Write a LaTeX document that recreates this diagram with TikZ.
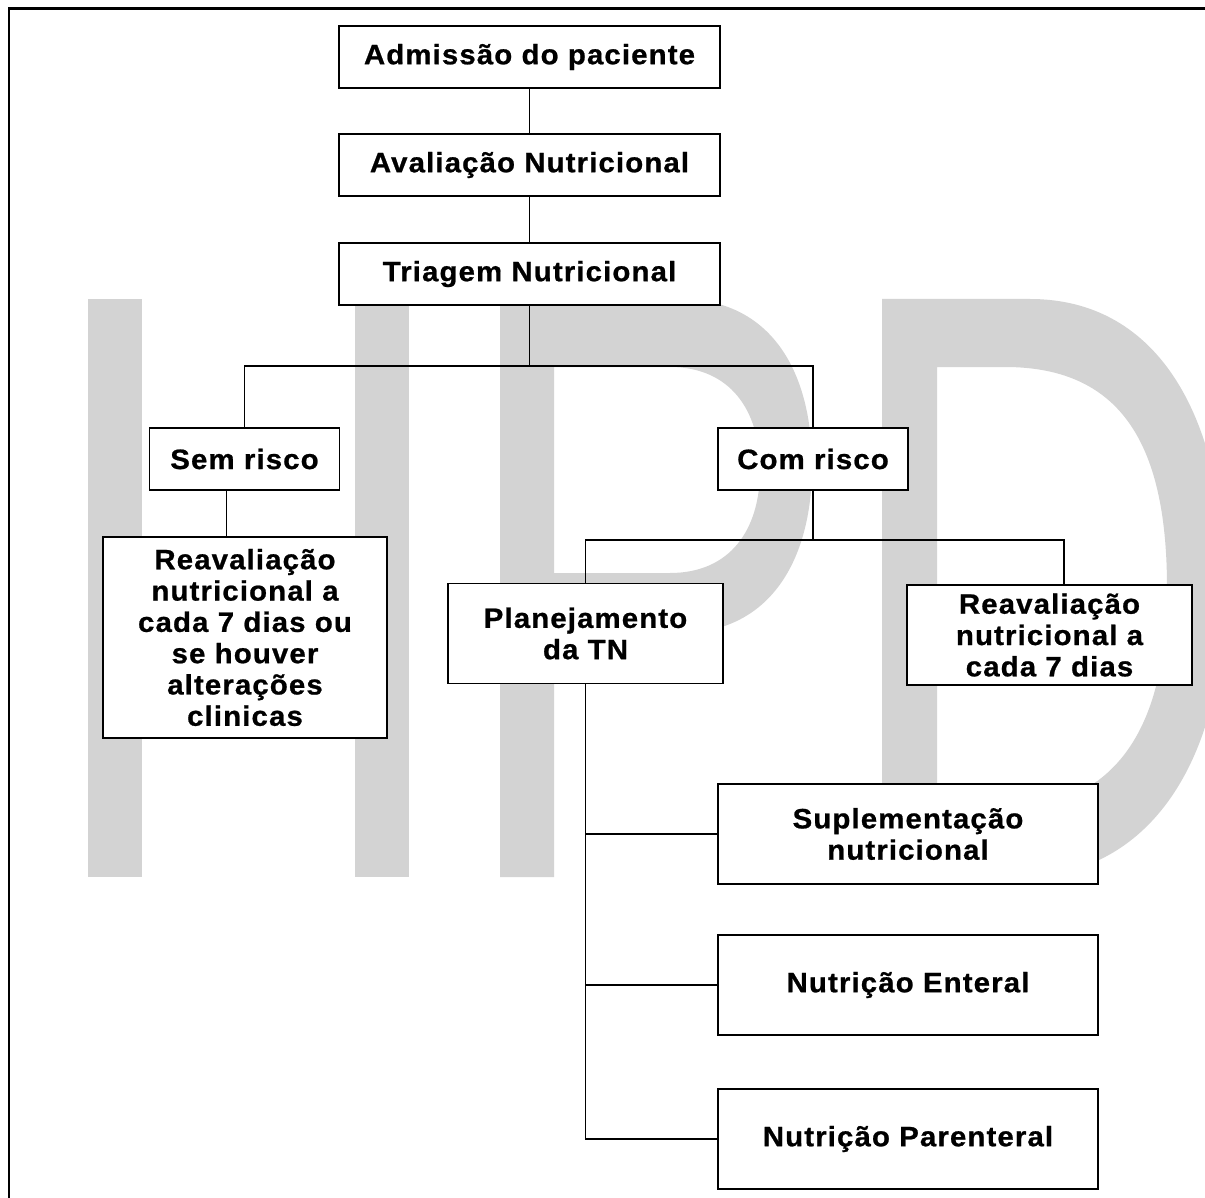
\documentclass[tikz,border=0pt]{standalone}
\usepackage{fontspec}
\newfontfamily\boxfont[FakeStretch=1.05,LetterSpace=4,BoldFeatures={FakeBold=0.8}]{Liberation Sans}
\usetikzlibrary{positioning}
\definecolor{wmgray}{RGB}{211,211,211}

\begin{document}
\begin{tikzpicture}[x=1pt,y=-1pt,
    box/.style={draw,fill=white,line width=1.4pt,align=center,inner sep=0pt,
      font=\boxfont\bfseries\fontsize{28}{31.3}\selectfont},
    topbox/.style={box,minimum width=381pt,minimum height=62pt},
    riskbox/.style={box,minimum width=190pt,minimum height=62pt},
    optbox/.style={box,minimum width=380pt,minimum height=100pt},
    link/.style={draw,line width=1.4pt}]
 \useasboundingbox (0,0) rectangle (1205,1198);
 % watermark
 \begin{scope}
  \clip (0,0) rectangle (1205,1198);
  \fill[wmgray] (88,299) rectangle (142,877);
  \fill[wmgray] (355,299) rectangle (409,877);
  \fill[wmgray] (142,560) rectangle (355,618);
  \fill[wmgray,even odd rule] (500,299) -- (680,299)
    .. controls (770,299) and (812,370) .. (812,466)
    .. controls (812,560) and (770,633) .. (680,633) -- (554,633) -- (554,877) -- (500,877) -- cycle
    (554,367) -- (670,367) .. controls (730,367) and (760,410) .. (760,470)
    .. controls (760,530) and (730,573) .. (670,573) -- (554,573) -- cycle;
  \fill[wmgray,even odd rule] (882,299) -- (1030,299)
    .. controls (1160,299) and (1225,420) .. (1225,588)
    .. controls (1225,760) and (1150,877) .. (1020,877) -- (882,877) -- cycle
    (937,367) -- (1005,367) .. controls (1125,367) and (1167,450) .. (1167,588)
    .. controls (1167,725) and (1118,809) .. (1000,809) -- (937,809) -- cycle;
 \end{scope}
 \draw[line width=2.5pt] (1205,8.5) -- (9,8.5) -- (9,1198);

 \node[topbox] (adm) at (529.5,57) {Admissão do paciente};
 \node[topbox,below=44.6pt of adm] (aval) {Avaliação Nutricional};
 \node[topbox,below=45.6pt of aval] (tri) {Triagem Nutricional};
 \node[riskbox] (sem) at (244.5,459) {Sem risco};
 \node[riskbox] (com) at (813,459) {Com risco};
 \node[box,minimum width=284pt,minimum height=201pt] (reavL) at (245,637.5)
  {Reavaliação\\nutricional a\\cada 7 dias ou\\se houver\\alterações\\clinicas};
 \node[box,minimum width=275pt,minimum height=100pt] (plan) at (585.5,633.5)
  {Planejamento\\da TN};
 \node[box,minimum width=285pt,minimum height=100pt] (reavR) at (1049.5,635)
  {Reavaliação\\nutricional a\\cada 7 dias};
 \node[optbox] (sup) at (908,834) {Suplementação\\nutricional};
 \node[optbox,below=49.6pt of sup] (ent) {Nutrição Enteral};
 \node[optbox,below=52.6pt of ent] (par) {Nutrição Parenteral};

 \coordinate (jt) at (529.5,366);
 \coordinate (jc) at (813,540);
 \draw[link] (adm) -- (aval);
 \draw[link] (aval) -- (tri);
 \draw[link] (tri.south) -- (jt) -| (sem);
 \draw[link] (jt) -| (com);
 \draw[link] ([xshift=-18pt]sem.south) -- ([xshift=-18pt]sem.south |- reavL.north);
 \draw[link] (com.south) -- (jc) -| (plan);
 \draw[link] (jc) -| ([xshift=14.5pt]reavR.north);
 \foreach \n in {sup,ent,par} {\draw[link] (plan.south) |- (\n.west);}
\end{tikzpicture}
\end{document}
